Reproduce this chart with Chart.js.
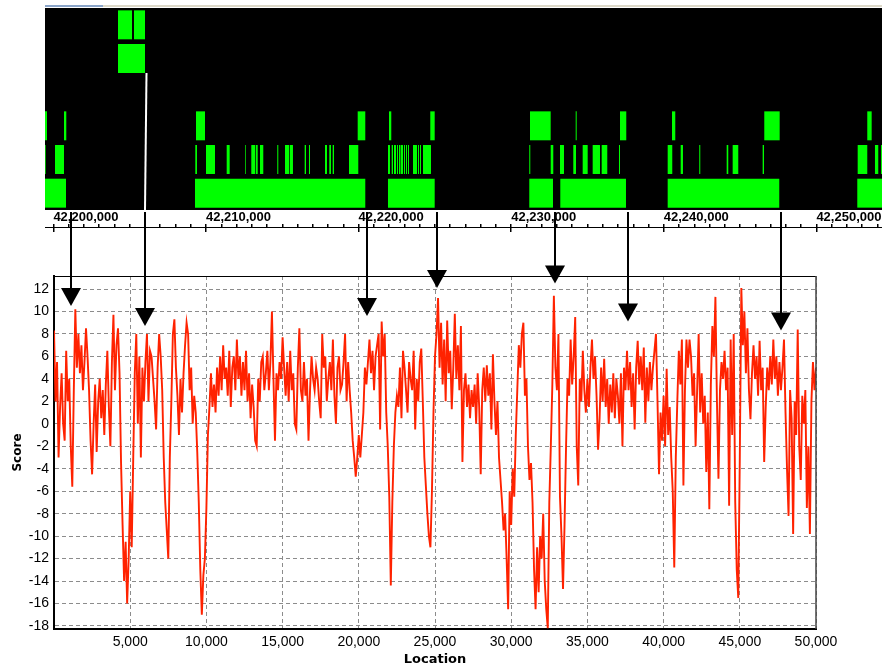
<!DOCTYPE html>
<html>
<head>
<meta charset="utf-8">
<title>Score by location</title>
<script src="https://cdn.jsdelivr.net/npm/chart.js@4.4.1/dist/chart.umd.min.js"></script>
<style>
  html, body { margin: 0; padding: 0; background: #fff; }
  body { width: 882px; height: 668px; position: relative; overflow: hidden; }
  canvas { position: absolute; }
  #track { left: 45px; top: 8px; }
  #ruler { left: 45px; top: 210px; }
  #score { left: 0; top: 210px; z-index: 2; }
  .rim { position: absolute; top: 5px; height: 2px; }
</style>
</head>
<body>
<div class="rim" style="left:45px;width:58px;background:#8aa4c8"></div>
<div class="rim" style="left:103px;width:779px;background:#dcd8c8"></div>
<canvas id="track" width="837" height="202"></canvas>
<canvas id="ruler" width="837" height="22"></canvas>
<canvas id="score" width="882" height="458"></canvas>
<script>
// genome track: blocks are [start, end] in bp, relative to REGION_START
const REGION_START = 42200000;
const VIEW_MIN = -550;
const VIEW_MAX = 54300;
const RULER_MINOR = 1000;
const RULER_MAJOR = 10000;

const trackRows = ['rowA', 'rowB', 'gap', 'rowC', 'rowD', 'rowE'];
const rowA = [[4233, 5151], [5282, 6003]];
const rowB = [[4233, 6003]];
const rowC = [[-550, -419], [695, 845], [9345, 9934], [19941, 20439], [21992, 22142], [24698, 24987],
  [31232, 32588], [34227, 34292], [37130, 37542], [40537, 40753], [46585, 47594], [53335, 53623]];
const rowD = [[-550, -505], [105, 695], [9299, 9410], [9999, 10589], [11356, 11553], [12575, 12621],
  [12968, 13231], [13277, 13388], [13539, 13755], [14672, 14738], [15177, 15459], [15505, 15700],
  [16468, 16553], [16749, 16815], [17798, 17929], [18080, 18191], [18303, 18388], [19371, 19980],
  [21926, 22057], [22169, 22254], [22319, 22450], [22516, 22581], [22647, 22745], [22778, 22909],
  [22974, 23040], [23105, 23171], [23236, 23302], [23564, 23826], [23892, 23957], [24023, 24088],
  [24219, 24744], [31186, 31251], [32588, 32759], [33198, 33460], [34069, 34246], [34685, 35013],
  [35340, 35819], [35930, 36297], [37064, 37130], [40255, 40556], [41107, 41257], [42325, 42391],
  [44121, 44226], [44514, 44881], [46480, 46566], [52706, 53335], [53839, 54055], [54232, 54300]];
const rowE = [[-550, 826], [9279, 20439], [21926, 24987], [31186, 32739], [33218, 37523],
  [40255, 47568], [52680, 54300]];

// score profile, one value every 100 bp from 0 to 50,000
const STEP = 100;
const scores = [
  8.3, 2, 5.5, -3, 1.5, 4.5, 0, -1.5, 6.5, 2,
  4, -2, -5.6, 3, 10.2, 5, 8, 4.5, 7, 3,
  5.5, 8.5, 6, 3, -1.5, -4.5, 0, 3.5, -2.5, 2,
  4, 0.5, 3, -1, 3.5, 6.5, 1.5, -2, 5.5, 9.7,
  3, 7, 8.5, 4.5, -3.5, -9, -14, -10.5, -16, -12,
  -6, -11, -3, 4.5, 8, 0, 6, -3, 5, 2,
  5.5, 8, 2, 6.5, 6, 4, 2, -0.5, 5, 8,
  6, 3, -3, -7, -9.5, -12, -3, 2, 8, 9.3,
  5, 2.5, -1, 4, 1, 4.5, 7, 9, 8, 3,
  5, 0, 2.5, 1, -2.5, -7, -13, -17, -13.5, -12,
  -7.5, -1, 1.5, 4.5, 1.5, 3.5, 1, 5, 2.5, 6,
  3, 7, 4, 5, 2.5, 6.5, 1.5, 5, 6, 3,
  7.5, 4, 6, 2.5, 5.5, 3, 6.5, 2, 4.5, 0.5,
  3.5, 1.5, -1.5, -2, 4, 2, 5.5, 6, 3, 4.5,
  6.5, 3, 5.5, 10, 4, -1.5, 4.5, 3, 5.5, 4,
  7.7, 5, 2.5, 5.5, 2, 6.5, 3, 4.5, 0, -0.5,
  5, 8.5, 3, 2, 5.5, 2.5, 4, -1.5, 3, 6,
  4, 3, 5, 4, 2, 0.5, 8, 5, 6, 2,
  4, 5.5, 3, 7.5, 2.5, 0, 5, 6, 3, 3.5,
  5.5, 8, 2, 5.5, 3, 1, -1.5, -3, -4.7, -3,
  -1, -3, -1, 1, 5, 3.5, 5.5, 7.5, 4.5, 6.5,
  3, 6, 7, 8, -0.5, 9.1, 6, 8, 1, -2,
  -6.5, -14.4, -7, -2, 1, 2.5, 1.5, 5, 0.5, 6.5,
  5, 3, 1, 5.5, 4, 3, 6.5, -0.5, 4, 2,
  5.5, 6.7, 2, -3, -5.5, -8, -10, -11, -6, 1,
  6, 8, 11.2, 5, 9, 3.5, 7.5, 2, 9.2, 4.5,
  6.5, 1.3, 5, 9.8, 4, 7, 3, 8.7, -3.4, 3,
  4.5, 1.5, 3.5, 0.5, 3, 1.5, 3.5, 0, 4.5, 1.5,
  -4.5, 3, 5, 2, 5.2, 2.5, 4.5, -0.5, 6.2, 2,
  -1, 2, -3, -5, -7, -9.5, -8, -12, -16.5, -6,
  -9, -4, -6.5, -1, 3, 7, 5, 8, 9, 2.5,
  4, -2, -5, -3.5, -7, -13, -16.5, -11, -15, -10,
  -12, -8, -14, -16.5, -18.2, -7, -2, 3.5, 11.4, 5,
  3, 8, -6.5, -10, -14.7, -9, -2, 4, 2.5, 7.5,
  3.5, 6, 9.5, -2, -5.5, 4, 2, 6.5, 3, 1,
  4, 1.5, 5, 7.5, 4, 6, 2.5, -2.3, 0.5, 5,
  2, 5.8, 1.5, 4, 0, 3.5, 1, 4.5, 0.5, 4,
  2.5, 0, 4.5, -2, 5, 3, 6.5, 3, 5.5, 1.5,
  4.5, -0.5, 5, 7.4, 3.5, 6, 3, 6.8, 0.1, 5,
  2, 5.5, 3, 5, 6.5, 8, 2, -4.5, 1, -1.5,
  2.5, -2, 4.9, -1, 1.5, -3, -6, -12.8, -3, 2,
  6.5, 3.5, 7.5, -5.5, 3, 7.5, 5, 7.5, 6, 2.5,
  4.5, -2, 3, 8, 1, 4.5, 0, 2.5, -4.3, 1,
  -7.6, 3.5, 8.7, 6, 11.3, 2, -4.9, 3, 5.5, 4,
  6.5, 3, 5, -7.3, 7.5, -1, 8, -7, -13, -15.5,
  -3, 12.1, 7, 10, 4.5, 8.5, 3, 0.4, 4.5, 7,
  4, 6, 2.5, 7.4, 3, 5, -3.4, 1.5, 5, 3,
  6, 3.5, 7.5, 4, 6, 2.5, 5.5, 3, 5, 7.5,
  1, -4.1, -8.2, 3, 0.5, -9.8, 2, -1, 8.4, -2,
  -5, 2.5, 0, 3, -7.5, -2, -9.8, 2, 5.5, 3,
  5
];
const locations = scores.map((_, i) => i * STEP);

const SCORE_MIN = -18.27;
const SCORE_MAX = 13.16;
const LOC_MIN = 0;
const LOC_MAX = 50000;

// arrows: location they point at, and score at the arrow tip
const arrowLocations = [1100, 6003, 20550, 25130, 32870, 37650, 47680];
const arrowTips = [10.5, 8.7, 9.6, 12.1, 12.5, 9.1, 8.3];

Chart.defaults.font.family = '"Liberation Sans", Arial, sans-serif';
Chart.defaults.color = '#000';

const blocks = [];
[rowA, rowB, [], rowC, rowD, rowE].forEach((list, r) => {
  list.forEach(b => blocks.push({ x: b, y: trackRows[r] }));
});

const trackBackdrop = {
  id: 'trackBackdrop',
  beforeDraw(chart) {
    const { ctx, width, height } = chart;
    ctx.save();
    ctx.fillStyle = '#000';
    ctx.fillRect(0, 0, width, height);
    ctx.restore();
  },
  afterDatasetsDraw(chart) {
    // white connector from the end of the rowB block down to the ruler
    const idx = blocks.findIndex(b => b.y === 'rowB');
    const bar = chart.getDatasetMeta(0).data[idx];
    const x = chart.scales.x.getPixelForValue(rowB[0][1]);
    const ctx = chart.ctx;
    ctx.save();
    ctx.strokeStyle = '#fff';
    ctx.lineWidth = 2;
    ctx.beginPath();
    ctx.moveTo(x + 1.5, bar.y + bar.height / 2);
    ctx.lineTo(x, chart.height);
    ctx.stroke();
    ctx.restore();
  }
};

new Chart(document.getElementById('track'), {
  type: 'bar',
  data: {
    labels: trackRows,
    datasets: [{
      data: blocks,
      backgroundColor: '#00ff00',
      borderWidth: 0,
      barPercentage: 0.86,
      categoryPercentage: 1
    }]
  },
  options: {
    indexAxis: 'y',
    responsive: false,
    animation: false,
    events: [],
    layout: { padding: 0 },
    plugins: { legend: { display: false }, tooltip: { enabled: false } },
    scales: {
      x: { type: 'linear', min: VIEW_MIN, max: VIEW_MAX, display: false },
      y: { type: 'category', display: false }
    }
  },
  plugins: [trackBackdrop]
});

// ruler: a tick every kb, labelled every 10 kb
const rulerTicks = [];
for (let v = 0; v <= VIEW_MAX; v += RULER_MINOR) rulerTicks.push(v);

new Chart(document.getElementById('ruler'), {
  type: 'line',
  data: { datasets: [] },
  options: {
    responsive: false,
    animation: false,
    events: [],
    layout: { padding: 0 },
    plugins: { legend: { display: false }, tooltip: { enabled: false } },
    scales: {
      x: {
        type: 'linear',
        position: 'top',
        min: VIEW_MIN,
        max: VIEW_MAX,
        afterBuildTicks: s => { s.ticks = rulerTicks.map(v => ({ value: v })); },
        afterFit: s => { s.height = 17; },
        ticks: {
          autoSkip: false,
          maxRotation: 0,
          align: 'start',
          padding: 0,
          font: { size: 13, weight: 'bold', lineHeight: 1 },
          callback: v => (v % RULER_MAJOR === 0 ? (REGION_START + v).toLocaleString('en-US') : '')
        },
        grid: {
          drawOnChartArea: true,
          drawTicks: true,
          tickLength: 3,
          tickColor: '#000',
          lineWidth: 1.5,
          color: c => (c.tick && c.tick.value % RULER_MAJOR === 0 ? '#000' : 'rgba(0,0,0,0)')
        },
        border: { display: true, color: '#000', width: 1 }
      },
      y: { display: false, min: 0, max: 1 }
    }
  }
});

const plotFrame = {
  id: 'plotFrame',
  afterDatasetsDraw(chart) {
    const { ctx, chartArea: a } = chart;
    ctx.save();
    ctx.strokeStyle = '#000';
    ctx.lineWidth = 1;
    ctx.beginPath();
    ctx.moveTo(a.left, a.top + 0.5);
    ctx.lineTo(a.right, a.top + 0.5);
    ctx.stroke();
    ctx.strokeStyle = '#444';
    ctx.lineWidth = 1.5;
    ctx.beginPath();
    ctx.moveTo(a.right, a.top);
    ctx.lineTo(a.right, a.bottom);
    ctx.stroke();
    ctx.restore();
  }
};

const arrows = {
  id: 'arrows',
  afterDraw(chart) {
    const { ctx, scales: { x, y } } = chart;
    ctx.save();
    ctx.strokeStyle = '#000';
    ctx.fillStyle = '#000';
    ctx.lineWidth = 2;
    arrowLocations.forEach((loc, i) => {
      const px = Math.round(x.getPixelForValue(loc));
      const tip = y.getPixelForValue(arrowTips[i]);
      const head = 18, half = 10;
      ctx.beginPath();
      ctx.moveTo(px, 2);
      ctx.lineTo(px, tip - head + 1);
      ctx.stroke();
      ctx.beginPath();
      ctx.moveTo(px - half, tip - head);
      ctx.lineTo(px + half, tip - head);
      ctx.lineTo(px, tip);
      ctx.closePath();
      ctx.fill();
    });
    ctx.restore();
  }
};

new Chart(document.getElementById('score'), {
  type: 'line',
  data: {
    datasets: [{
      data: locations.map((x, i) => ({ x, y: scores[i] })),
      borderColor: '#ff2200',
      borderWidth: 1.9,
      pointRadius: 0,
      tension: 0,
      fill: false
    }]
  },
  options: {
    responsive: false,
    animation: false,
    events: [],
    layout: { padding: { top: 66, right: 66, left: 0, bottom: 0 } },
    plugins: { legend: { display: false }, tooltip: { enabled: false } },
    scales: {
      x: {
        type: 'linear',
        min: LOC_MIN,
        max: LOC_MAX,
        afterFit: s => { s.height = 39; },
        ticks: {
          stepSize: 5000,
          includeBounds: false,
          autoSkip: false,
          maxRotation: 0,
          padding: 5,
          font: { size: 14 },
          callback: v => (v === 0 ? '' : v.toLocaleString('en-US'))
        },
        grid: { color: '#8c8c8c', drawTicks: false, lineWidth: 1 },
        border: { color: '#000', width: 2, dash: [4, 3] },
        title: {
          display: true,
          text: 'Location',
          font: { family: '"DejaVu Sans", sans-serif', size: 13, weight: 'bold' },
          padding: { top: 0, bottom: 1 }
        }
      },
      y: {
        min: SCORE_MIN,
        max: SCORE_MAX,
        afterFit: s => { s.width = 54; },
        ticks: {
          stepSize: 2,
          includeBounds: false,
          padding: 5,
          font: { size: 14 },
          callback: v => String(v)
        },
        grid: { color: '#8c8c8c', drawTicks: false, lineWidth: 1 },
        border: { color: '#000', width: 2, dash: [4, 3] },
        title: {
          display: true,
          text: 'Score',
          font: { family: '"DejaVu Sans", sans-serif', size: 12, weight: 'bold' },
          padding: { top: 11, bottom: 0 }
        }
      }
    }
  },
  plugins: [plotFrame, arrows]
});
</script>
</body>
</html>
